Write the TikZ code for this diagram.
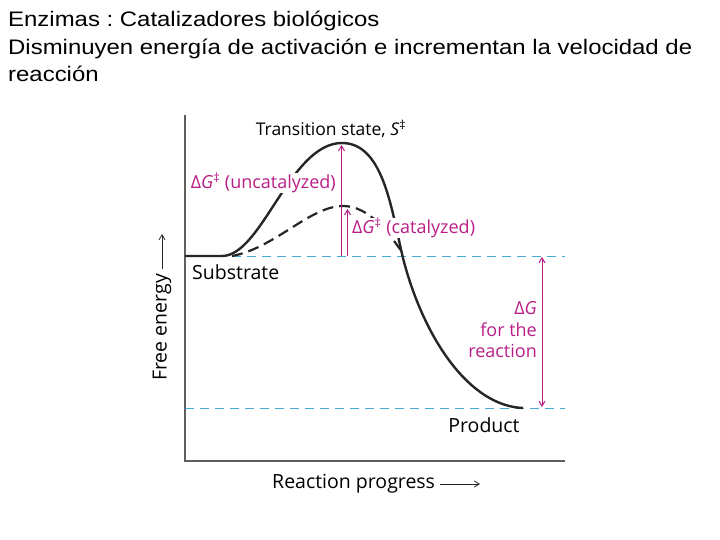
\documentclass[tikz,border=0pt]{standalone}
\usepackage{fontspec}
\setmainfont{Liberation Sans}
\newfontfamily\headfont[FakeStretch=1.14]{Liberation Sans}
\newfontfamily\figfont[Ligatures={NoCommon,NoRequired,NoContextual}]{Open Sans}
\usetikzlibrary{arrows.meta, positioning}

\definecolor{dgmagenta}{RGB}{185,30,135}
\definecolor{dgcyan}{RGB}{70,170,210}
\definecolor{dgaxis}{RGB}{95,95,95}

\begin{document}
\frenchspacing
\begin{tikzpicture}[
    x=1pt, y=-1pt,
    head/.style={anchor=base west, inner sep=0pt, font=\headfont\fontsize{21}{25}\selectfont},
    lbl/.style={inner sep=0pt, font=\figfont\fontsize{19.5}{23}\selectfont},
    mlbl/.style={inner sep=0pt, text=dgmagenta, font=\figfont\fontsize{18}{21.5}\selectfont},
    mask/.style={fill=white, inner xsep=1pt, inner ysep=0pt},
    axisline/.style={dgaxis, line width=1.6pt},
    level/.style={dgcyan, line width=1pt, dash pattern=on 9pt off 6pt},
    curve/.style={black!85, line width=2.4pt},
    tip/.style={-{Straight Barb[length=5pt,width=6pt]}},
    marr/.style={dgmagenta, line width=1pt, tip},
    darr/.style={dgmagenta, line width=1pt, {Straight Barb[length=5pt,width=6pt]}-{Straight Barb[length=5pt,width=6pt]}}
]
    \useasboundingbox (0,0) rectangle (720,540);

    % Heading
    \node[head] (h1) at (8,27) {Enzimas : Catalizadores biológicos};
    \node[head] (h2) at (8,54.5) {Disminuyen energía de activación e incrementan la velocidad de};
    \node[head] (h3) at (8,82) {reacción};

    % Axes
    \coordinate (top) at (185,115);
    \coordinate (orig) at (185,461);
    \coordinate (xend) at (565,461);
    \draw[axisline] (top) -- (orig) -- (xend);

    % Energy levels
    \coordinate (sub) at (185,256);
    \coordinate (subr) at (565,256);
    \coordinate (prodl) at (185,408);
    \coordinate (prodr) at (565,408);
    \draw[level] (232,256) -- (subr);
    \draw[level] (prodl) -- (prodr);

    % Uncatalyzed path
    \coordinate (peakA) at (342,143);
    \coordinate (prod) at (523,408);
    \draw[curve] (sub) -- (222,256)
        .. controls (262,256) and (290,143) .. (peakA)
        .. controls (385,143) and (392,215) .. (404,262)
        .. controls (425,340) and (470,406) .. (prod);

    % Catalyzed path
    \coordinate (peakB) at (343,206);
    \draw[curve, line width=2.2pt, dash pattern=on 11pt off 6pt] (232,256)
        .. controls (275,248) and (310,206) .. (peakB)
        .. controls (370,206) and (390,235) .. (402,252);

    % Activation energies
    \coordinate (baseA) at (341.5,256);
    \coordinate (topA) at (341.5,145);
    \coordinate (baseB) at (347.5,256);
    \coordinate (topB) at (347.5,209);
    \draw[marr] (baseA) -- (topA);
    \draw[marr] (baseB) -- (topB);

    % Reaction free energy
    \coordinate (dgtop) at (542,257);
    \coordinate (dgbot) at (542,407);
    \draw[darr] (dgtop) -- (dgbot);

    % Labels
    \node[lbl, font=\figfont\fontsize{17.5}{21}\selectfont] (ts) at (331,129) {Transition state, \textit{S}\textsuperscript{‡}};
    \node[mlbl, mask, anchor=east] (unc) at (337,183) {Δ\textit{G}\textsuperscript{‡} (uncatalyzed)};
    \node[mlbl, mask, anchor=west] (cat) at (351,228) {Δ\textit{G}\textsuperscript{‡} (catalyzed)};
    \node[lbl, anchor=west] (subl) at (192,272) {Substrate};
    \node[mlbl, anchor=east, align=right] (dgl) at (537,330) {Δ\textit{G}\\for the\\reaction};
    \node[lbl] (prl) at (484,425) {Product};

    % Axis titles
    \node[lbl, anchor=west] (xl) at (272,484) {Reaction progress};
    \coordinate (xarr) at (480,484);
    \draw[black!85, line width=0.8pt, tip] (xl.east) ++(5,0) -- (xarr);
    \node[lbl, rotate=90, anchor=west] (yl) at (162,381) {Free energy};
    \coordinate (yarr) at (162,234);
    \draw[black!85, line width=0.8pt, tip] (yl.east) ++(0,-5) -- (yarr);
\end{tikzpicture}
\end{document}
